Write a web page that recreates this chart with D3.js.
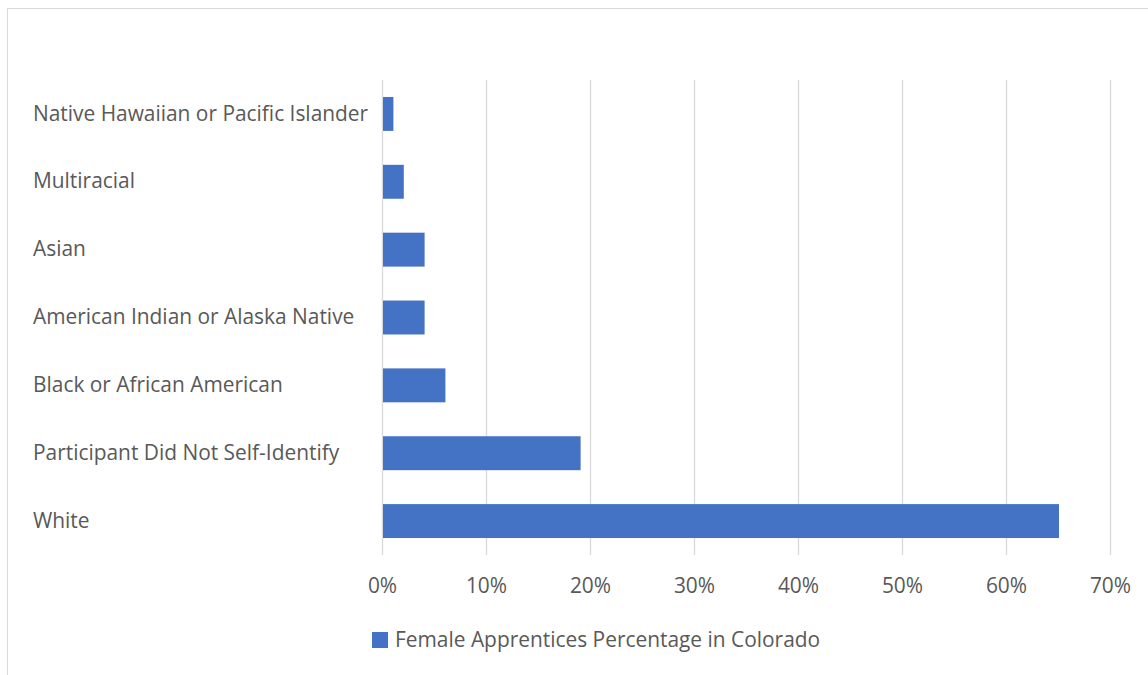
<!DOCTYPE html>
<html>
<head>
<meta charset="utf-8">
<script src="https://cdn.jsdelivr.net/npm/d3@7"></script>
<style>
  body { margin: 0; background: #fff; }
  text { font-family: "Open Sans", sans-serif; fill: #595959; }
</style>
</head>
<body>
<svg width="1148" height="675"></svg>
<script>
const categories = [
  "Native Hawaiian or Pacific Islander",
  "Multiracial",
  "Asian",
  "American Indian or Alaska Native",
  "Black or African American",
  "Participant Did Not Self-Identify",
  "White"
];
const values = [0.01, 0.02, 0.04, 0.04, 0.06, 0.19, 0.65];
const tickValues = [0, 0.1, 0.2, 0.3, 0.4, 0.5, 0.6, 0.7];
const seriesName = "Female Apprentices Percentage in Colorado";

const svg = d3.select("svg");
const m = { left: 382, right: 1110, top: 80, bottom: 555 };
const fs = 20.9;

// chart border
svg.append("rect")
  .attr("x", 7.5).attr("y", 8.5)
  .attr("width", 1160).attr("height", 700)
  .attr("fill", "none").attr("stroke", "#d9d9d9");

const x = d3.scaleLinear().domain([0, 0.7]).range([m.left, m.right]);
const y = d3.scaleBand().domain(categories).range([m.top, m.bottom])
  .paddingInner(0.5).paddingOuter(0.25);

// gridlines
svg.append("g").selectAll("line")
  .data(tickValues)
  .enter()
  .append("line")
  .attr("x1", d => x(d) + 0.5)
  .attr("x2", d => x(d) + 0.5)
  .attr("y1", m.top)
  .attr("y2", m.bottom)
  .attr("stroke", "#d9d9d9")
  .attr("stroke-width", 1.3);

// bars
svg.append("g").selectAll("rect")
  .data(values)
  .enter()
  .append("rect")
  .attr("x", x(0) + 1)
  .attr("y", (d, i) => y(categories[i]))
  .attr("width", d => x(d) - x(0))
  .attr("height", y.bandwidth())
  .attr("fill", "#4472c4");

// x axis labels
const xAxis = d3.axisBottom(x)
  .tickValues(tickValues)
  .tickFormat(d3.format(".0%"))
  .tickSize(0)
  .tickPadding(0);
const gx = svg.append("g")
  .attr("transform", `translate(0,${m.bottom + 38})`)
  .call(xAxis);
gx.select(".domain").remove();
gx.selectAll("text").attr("font-size", fs).attr("dy", 0).attr("fill", "#626262");

// y axis labels
const yAxis = d3.axisLeft(y).tickSize(0).tickPadding(0);
const gy = svg.append("g")
  .attr("transform", `translate(33,0)`)
  .call(yAxis);
gy.select(".domain").remove();
gy.selectAll("text")
  .attr("text-anchor", "start")
  .attr("font-size", fs)
  .attr("fill", "#626262");

// legend
const lg = svg.append("g").attr("transform", "translate(372,632)");
lg.append("rect").attr("width", 16).attr("height", 16).attr("fill", "#4472c4");
lg.append("text")
  .attr("x", 23).attr("y", 8).attr("dy", "0.35em")
  .attr("font-size", fs)
  .attr("fill", "#626262")
  .text(seriesName);
</script>
</body>
</html>
